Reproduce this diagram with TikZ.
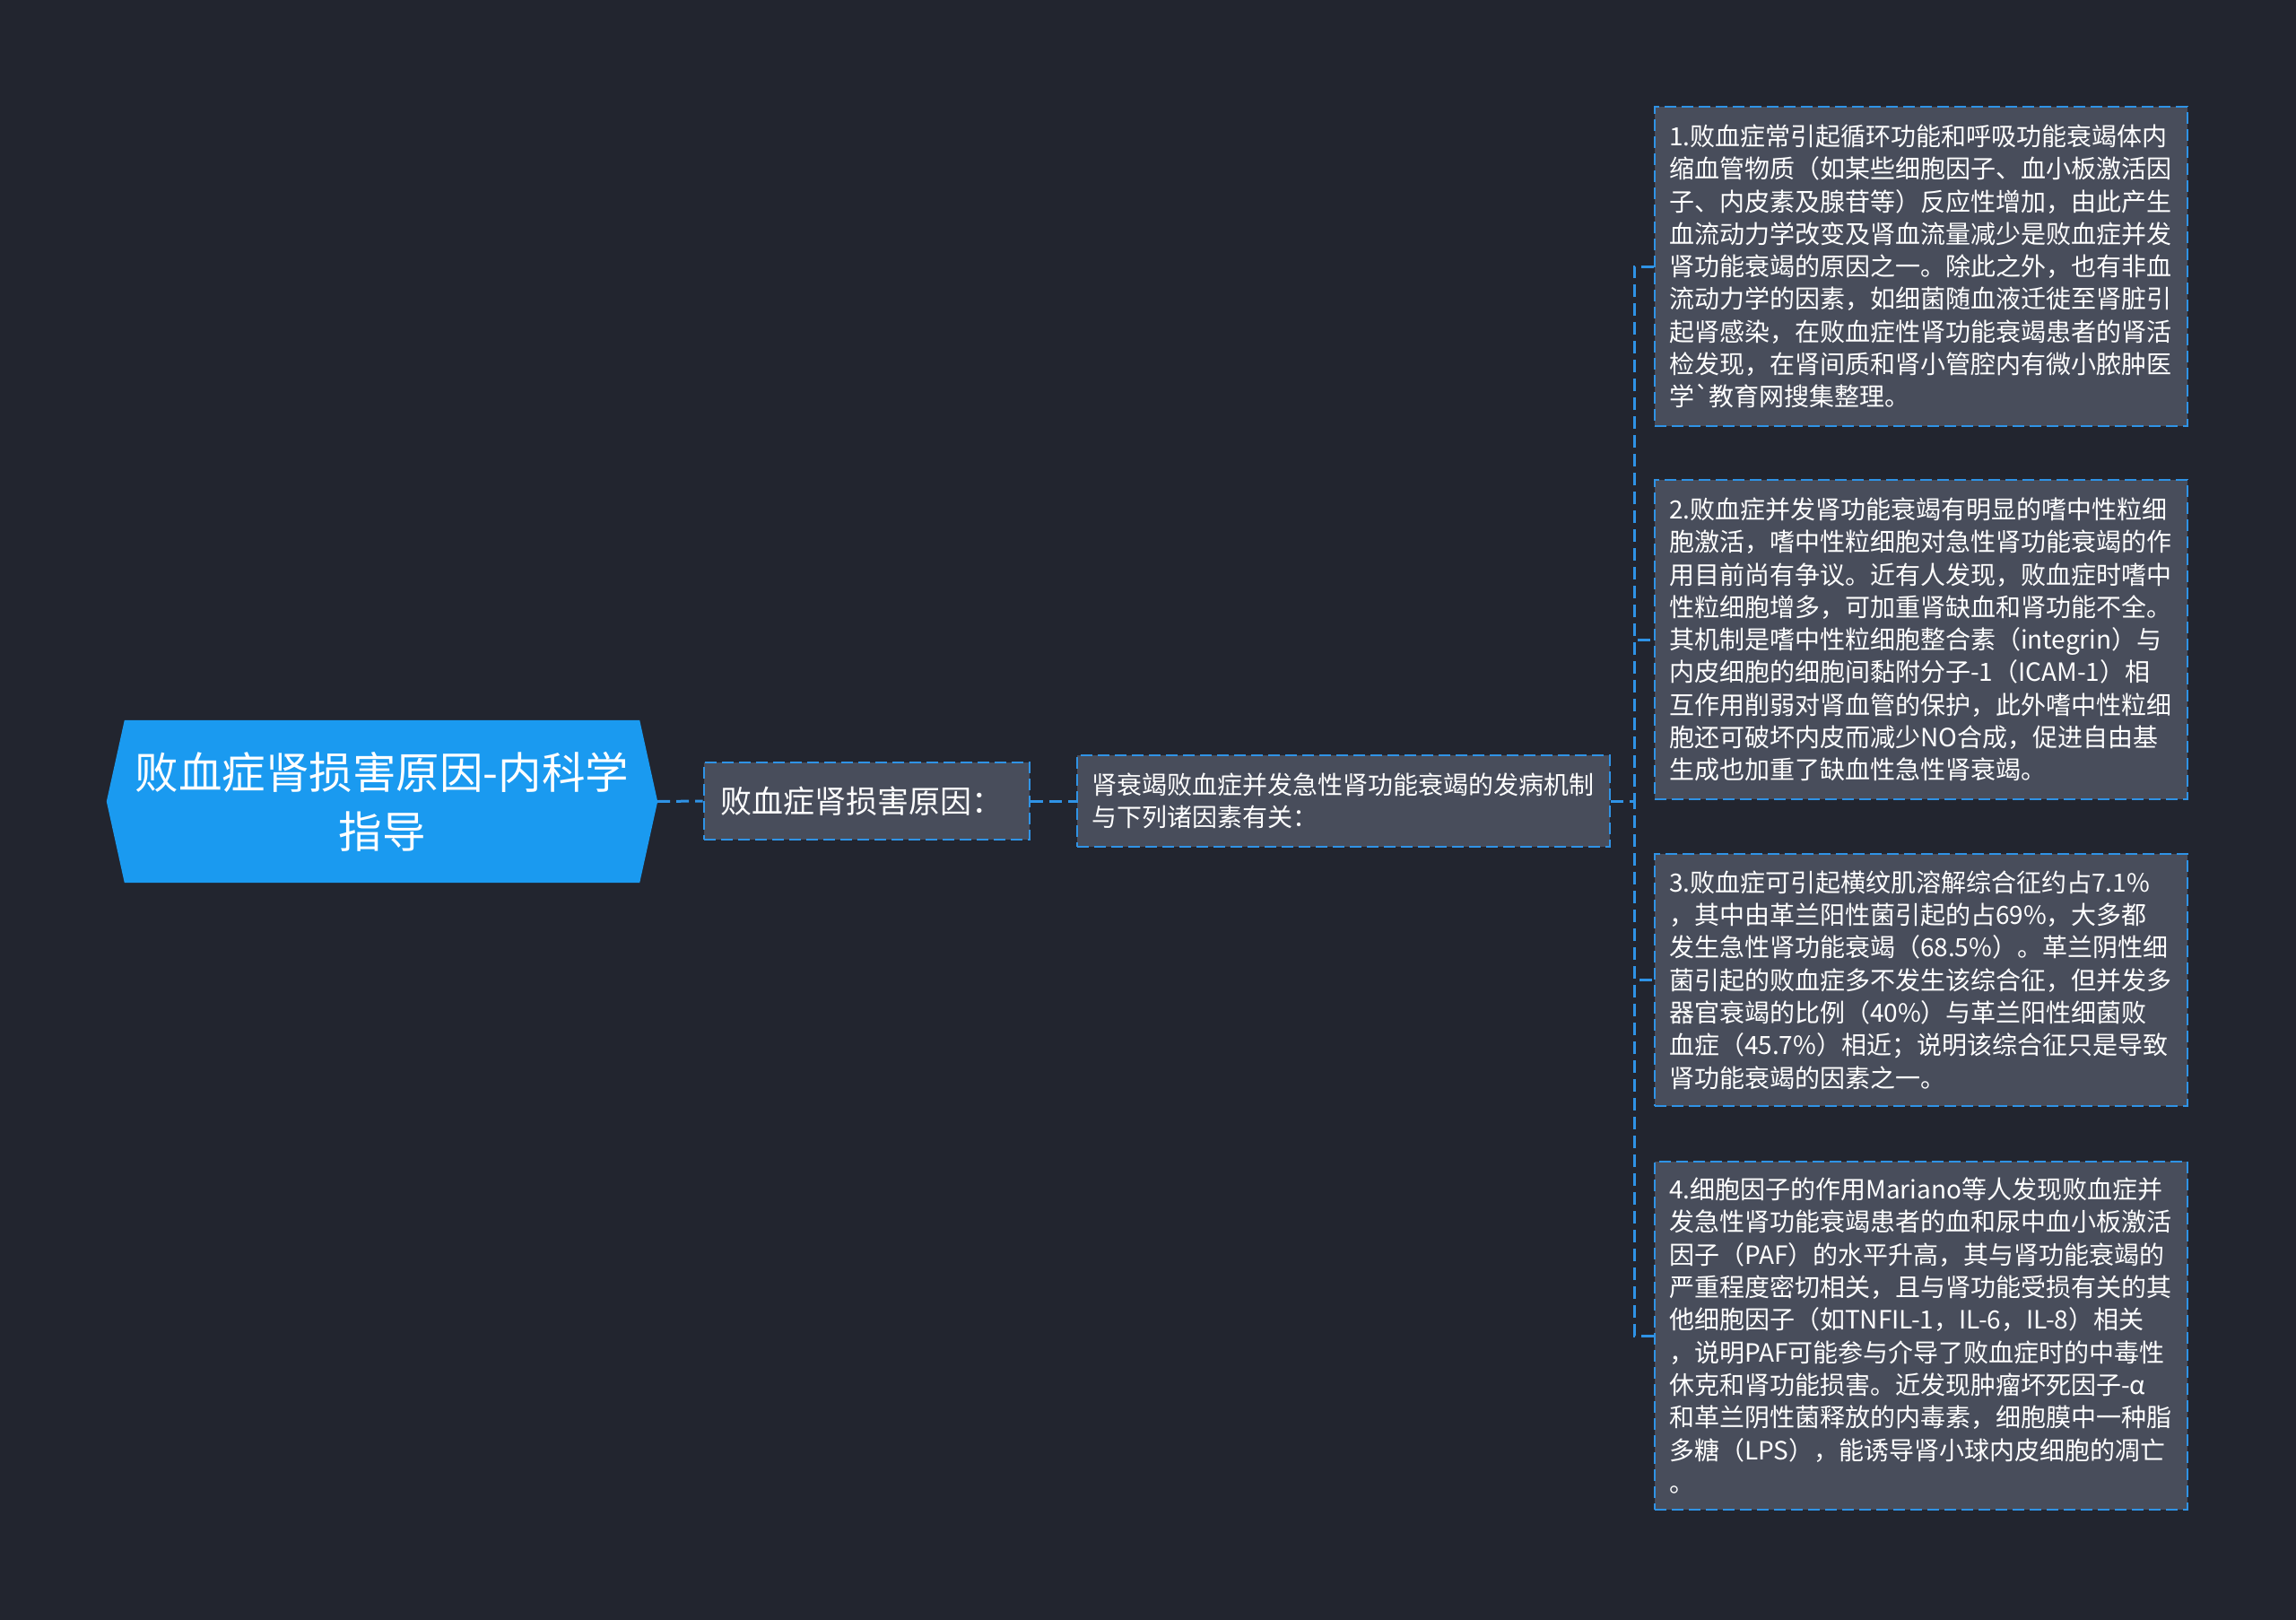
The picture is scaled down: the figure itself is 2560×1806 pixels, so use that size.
\documentclass[tikz,border=0pt]{standalone}
\usepackage{fontspec}
\newfontfamily\cjk{Noto Sans CJK SC}
\usetikzlibrary{backgrounds,calc}
\definecolor{bgcol}{HTML}{22252F}
\definecolor{boxfill}{HTML}{484D5B}
\definecolor{rootblue}{HTML}{1A9AF0}
\definecolor{linkblue}{HTML}{2F93E6}
\tikzset{
  rootbox/.style={rectangle, draw=none, minimum width=574pt, minimum height=181pt,
    align=center, text=white, inner sep=0pt, font=\cjk\fontsize{48.5}{66}\selectfont},
  midbox/.style={rectangle, fill=boxfill, draw=linkblue, line width=2.8pt,
    dash pattern=on 13pt off 6pt, text=white, align=left, inner xsep=18pt, inner ysep=0pt,
    text width=327pt, minimum height=86pt, font=\cjk\fontsize{35}{42}\selectfont},
  infobox/.style={rectangle, fill=boxfill, draw=linkblue, line width=2.8pt,
    dash pattern=on 13pt off 6pt, text=white, align=left, inner xsep=16pt, inner ysep=0pt,
    text width=562pt, font=\cjk\fontsize{28}{36.3}\selectfont},
  link/.style={draw=linkblue, line width=3pt, dash pattern=on 14pt off 7pt}
}
\begin{document}
\begin{tikzpicture}[x=1pt,y=-1pt]
\useasboundingbox (0,0) rectangle (2560,1806);

\node[rootbox] (root) at (426,893.5) {败血症肾损害原因-内科学\\指导};
\coordinate (roottip) at ([xshift=20pt]root.east);

\node[midbox] (cause) at (966.5,893) {败血症肾损害原因：};

\node[infobox, minimum height=102pt] (mech) at (1498,893)
  {肾衰竭败血症并发急性肾功能衰竭的发病机制\\与下列诸因素有关：};

\node[infobox, minimum height=356pt] (l1) at (2142,297)
  {1.败血症常引起循环功能和呼吸功能衰竭体内\\
   缩血管物质（如某些细胞因子、血小板激活因\\
   子、内皮素及腺苷等）反应性增加，由此产生\\
   血流动力学改变及肾血流量减少是败血症并发\\
   肾功能衰竭的原因之一。除此之外，也有非血\\
   流动力学的因素，如细菌随血液迁徙至肾脏引\\
   起肾感染，在败血症性肾功能衰竭患者的肾活\\
   检发现，在肾间质和肾小管腔内有微小脓肿医\\
   学\textasciigrave 教育网搜集整理。};

\node[infobox, minimum height=356pt] (l2) at (2142,713)
  {2.败血症并发肾功能衰竭有明显的嗜中性粒细\\
   胞激活，嗜中性粒细胞对急性肾功能衰竭的作\\
   用目前尚有争议。近有人发现，败血症时嗜中\\
   性粒细胞增多，可加重肾缺血和肾功能不全。\\
   其机制是嗜中性粒细胞整合素（integrin）与\\
   内皮细胞的细胞间黏附分子-1（ICAM-1）相\\
   互作用削弱对肾血管的保护，此外嗜中性粒细\\
   胞还可破坏内皮而减少NO合成，促进自由基\\
   生成也加重了缺血性急性肾衰竭。};

\node[infobox, minimum height=281pt] (l3) at (2142,1092.5)
  {3.败血症可引起横纹肌溶解综合征约占7.1\%\\
   ，其中由革兰阳性菌引起的占69\%，大多都\\
   发生急性肾功能衰竭（68.5\%）。革兰阴性细\\
   菌引起的败血症多不发生该综合征，但并发多\\
   器官衰竭的比例（40\%）与革兰阳性细菌败\\
   血症（45.7\%）相近；说明该综合征只是导致\\
   肾功能衰竭的因素之一。};

\node[infobox, minimum height=388pt] (l4) at (2142,1489)
  {4.细胞因子的作用Mariano等人发现败血症并\\
   发急性肾功能衰竭患者的血和尿中血小板激活\\
   因子（PAF）的水平升高，其与肾功能衰竭的\\
   严重程度密切相关，且与肾功能受损有关的其\\
   他细胞因子（如TNFIL-1，IL-6，IL-8）相关\\
   ，说明PAF可能参与介导了败血症时的中毒性\\
   休克和肾功能损害。近发现肿瘤坏死因子-α\\
   和革兰阴性菌释放的内毒素，细胞膜中一种脂\\
   多糖（LPS），能诱导肾小球内皮细胞的凋亡\\
   。};

\begin{scope}[on background layer]
  \fill[bgcol] (0,0) rectangle (2560,1806);
  \fill[rootblue] (root.north west) -- (root.north east) -- (roottip)
    -- (root.south east) -- (root.south west) -- ([xshift=-20pt]root.west) -- cycle;
\end{scope}

\draw[link] (roottip) -- (cause.west);
\draw[link] (cause.east) -- (mech.west);
\foreach \leaf in {l1,l2,l3,l4}
  \draw[link] (mech.east) -- ++(26,0) |- (\leaf.west);
\end{tikzpicture}
\end{document}
